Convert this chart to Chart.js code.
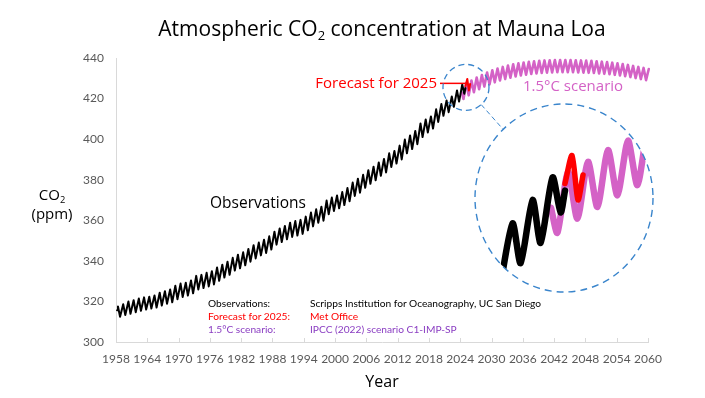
<!DOCTYPE html>
<html><head><meta charset="utf-8">
<script src="https://cdn.jsdelivr.net/npm/chart.js@4"></script>
<style>
html,body{margin:0;padding:0;background:#fff;}
#wrap{position:relative;width:705px;height:398px;overflow:hidden;font-family:'Open Sans',sans-serif;color:#000;}
#main{position:absolute;left:0;top:0;}
#inset{position:absolute;left:474px;top:103px;}
.t{position:absolute;white-space:nowrap;line-height:1.15;}
.c{transform:translate(-50%,-50%);}
.l{transform:translateY(-50%);}
.r{transform:translate(-100%,-50%);}
.s{font-size:10.2px;font-family:Lato,sans-serif;}
sub{font-size:0.62em;vertical-align:-0.3em;line-height:0;}
</style></head><body>
<div id="wrap">
<canvas id="main" width="705" height="398"></canvas>
<canvas id="inset" width="180" height="190"></canvas>
<div class="t c" style="left:382px;top:28px;font-size:21px;">Atmospheric CO<sub>2</sub> concentration at Mauna Loa</div>
<div class="t c" style="left:52px;top:195px;font-size:15px;">CO<sub>2</sub></div>
<div class="t c" style="left:52px;top:214px;font-size:15px;">(ppm)</div>
<div class="t c" style="left:382px;top:381px;font-size:16px;">Year</div>
<div class="t l" style="left:210px;top:203px;font-size:15.5px;">Observations</div>
<div class="t r" style="left:437px;top:83px;font-size:15px;color:#ff0000;">Forecast for 2025</div>
<div class="t l" style="left:523px;top:86px;font-size:15px;color:#d462c6;">1.5°C scenario</div>
<div class="t l s" style="left:208px;top:304px;">Observations:</div>
<div class="t l s" style="left:310px;top:304px;">Scripps Institution for Oceanography, UC San Diego</div>
<div class="t l s" style="left:208px;top:317px;color:#ff0000;">Forecast for 2025:</div>
<div class="t l s" style="left:310px;top:317px;color:#ff0000;">Met Office</div>
<div class="t l s" style="left:208px;top:330px;color:#8a3dc2;">1.5°C scenario:</div>
<div class="t l s" style="left:310px;top:330px;color:#8a3dc2;">IPCC (2022) scenario C1-IMP-SP</div>
</div>
<script>
// ---------- DATA ----------
const xTicks = [1958,1964,1970,1976,1982,1988,1994,2000,2006,2012,2018,2024,2030,2036,2042,2048,2054,2060];
const yTicks = [300,320,340,360,380,400,420,440];

// Observations (Mauna Loa), seasonal maximum (~May) and minimum (~Oct) per year, ppm
const obsFirstYear = 1958;
const obsPeaks = [317.5,318.6,320.0,320.6,321.4,322.0,322.3,322.9,324.3,325.0,325.9,327.7,328.8,329.2,330.3,332.6,333.1,334.1,334.9,336.7,
  338.1,339.6,341.5,343.0,344.2,345.9,347.7,349.0,350.4,352.1,354.4,356.0,357.2,358.8,359.6,360.2,361.8,363.8,365.4,366.7,
  369.7,371.2,372.2,373.9,375.9,378.6,380.5,382.4,384.7,386.4,388.5,390.2,393.0,394.2,396.8,399.8,401.8,404.0,407.7,409.7,
  411.2,414.7,417.3,419.1,421.0,424.0,426.9];
const obsTroughs = [312.4,313.3,313.9,314.7,315.4,316.0,316.5,317.0,318.0,318.9,319.6,321.1,322.2,322.9,324.0,325.9,326.6,327.4,328.4,330.2,
  331.8,333.1,335.2,336.3,337.8,339.6,341.2,342.7,343.9,345.6,348.0,349.3,350.6,351.8,352.5,353.3,355.1,357.0,358.8,359.8,
  363.0,364.6,365.9,367.5,369.4,372.0,373.6,376.0,378.0,379.7,381.9,383.6,386.3,388.0,390.0,393.0,395.1,397.5,401.0,403.3,
  405.2,408.5,411.5,413.3,415.9,418.5,422.4];
const obsFirstPoint = [1958.2, 315.7];
const obsLastPoint = [2025.0, 425.2];
const insetObsFrom = 2021.7;   // the magnified view shows observations from late 2021

// Met Office forecast for 2025
const forecastTimes = [2025.0, 2025.35, 2025.65, 2025.9];
const forecastValues = [426.1, 429.7, 424.0, 427.2];

// IPCC 1.5°C scenario (C1-IMP-SP)
const scenFirstPoint = [2024.3, 423.0];
const scenTroughFirstYear = 2024;
const scenTroughs = [419.8,421.6,423.1,424.6,425.9,427.0,428.0,428.9,429.6,430.3,430.9,431.4,431.8,432.1,432.4,432.6,432.8,432.9,433.0,433.0,
  433.0,433.0,432.9,432.8,432.7,432.6,432.4,432.2,432.0,431.7,431.4,431.0,430.6,430.1,429.6,429.1];
const scenPeakFirstYear = 2025;
const scenPeaks = [427.6,428.9,430.4,431.6,432.8,433.9,434.8,435.6,436.3,436.9,437.4,437.8,438.1,438.4,438.6,438.8,438.9,439.0,439.0,439.0,
  439.0,438.9,438.8,438.7,438.6,438.4,438.2,438.0,437.7,437.4,437.0,436.6,436.1,435.6,435.1,434.6];
const scenLastPoint = [2060.4, 430.8];

// ---------- BUILD ----------
function buildSeries(first, peaksY0, peaks, peakPhase, troughY0, troughs, troughPhase, last){
  const pts = [{x:first[0], y:first[1]}];
  peaks.forEach((v,i)=>pts.push({x:peaksY0+i+peakPhase, y:v}));
  troughs.forEach((v,i)=>pts.push({x:troughY0+i+troughPhase, y:v}));
  pts.push({x:last[0], y:last[1]});
  return pts.sort((a,b)=>a.x-b.x);
}
const obsData = buildSeries(obsFirstPoint, obsFirstYear, obsPeaks, 0.38, obsFirstYear, obsTroughs, 0.78, obsLastPoint);
const scenData = buildSeries(scenFirstPoint, scenPeakFirstYear, scenPeaks, 0.15, scenTroughFirstYear, scenTroughs, 0.62, scenLastPoint);
const fcData = forecastTimes.map((t,i)=>({x:t, y:forecastValues[i]}));

const BLACK='#000000', RED='#ff0000', PINK='#d462c6', BLUE='#3a85cc', AXIS='#d9d9d9', TICKC='#595959';

function datasets(obs, wBlack, wRed, wPink, tension){
  return [
    {label:'Forecast for 2025', data:fcData, borderColor:RED, borderWidth:wRed},
    {label:'Observations', data:obs, borderColor:BLACK, borderWidth:wBlack},
    {label:'1.5°C scenario', data:scenData, borderColor:PINK, borderWidth:wPink, clip:false}
  ].map(d=>Object.assign(d,{pointRadius:0, tension:tension, fill:false, borderJoinStyle:'round', borderCapStyle:'round'}));
}

const decor = {
  id:'decor',
  afterDraw(chart){
    const c = chart.ctx, xs = chart.scales.x, ys = chart.scales.y, ca = chart.chartArea;
    c.save();
    c.strokeStyle = AXIS; c.lineWidth = 1;
    xTicks.forEach(v=>{ const px = Math.round(xs.getPixelForValue(v))+0.5; c.beginPath(); c.moveTo(px, ca.bottom); c.lineTo(px, ca.bottom-4); c.stroke(); });
    const ry = ys.getPixelForValue(427.5);
    c.strokeStyle = RED; c.lineWidth = 1.5;
    c.beginPath(); c.moveTo(440, ry); c.lineTo(xs.getPixelForValue(forecastTimes[0]), ry); c.stroke();
    const cx = xs.getPixelForValue(2025.1), cy = ys.getPixelForValue(425.5), r = 23;
    c.strokeStyle = BLUE; c.lineWidth = 1.3; c.setLineDash([6,4]);
    c.beginPath(); c.arc(cx, cy, r, 0, Math.PI*2); c.stroke();
    const bx = 474+90, by = 103+95, rx = 89, rY = 94;
    const dx = bx-cx, dy = by-cy, L = Math.hypot(dx,dy), ux = dx/L, uy = dy/L;
    const t = 1/Math.sqrt((ux/rx)**2 + (uy/rY)**2);
    c.lineWidth = 1; c.setLineDash([5,3]);
    c.beginPath(); c.moveTo(cx+ux*r, cy+uy*r); c.lineTo(bx-ux*t, by-uy*t); c.stroke();
    c.restore();
  }
};

new Chart(document.getElementById('main'), {
  type:'line',
  data:{datasets:datasets(obsData, 2, 2, 2.6, 0)},
  options:{
    responsive:false, animation:false, devicePixelRatio:1,
    layout:{padding:{left:0, right:57, top:58, bottom:0}},
    plugins:{legend:{display:false}, tooltip:{enabled:false}, title:{display:false}},
    scales:{
      x:{type:'linear', min:1958, max:2060,
        afterBuildTicks:s=>{ s.ticks = xTicks.map(v=>({value:v})); },
        afterFit:s=>{ s.height = 56; },
        grid:{display:false, drawTicks:false},
        border:{display:true, color:AXIS, width:1},
        ticks:{padding:10, color:TICKC, font:{family:'Lato', size:12}, maxRotation:0, autoSkip:false, callback:v=>String(v)}},
      y:{type:'linear', min:300, max:440,
        afterBuildTicks:s=>{ s.ticks = yTicks.map(v=>({value:v})); },
        afterFit:s=>{ s.width = 116; },
        grid:{display:false, drawTicks:false},
        border:{display:true, color:AXIS, width:1},
        ticks:{padding:12, color:TICKC, font:{family:'Lato', size:12}, callback:v=>String(v)}}
    }
  },
  plugins:[decor]
});

const ellipse = {
  id:'ellipse',
  beforeDatasetsDraw(chart){ const c = chart.ctx; c.save(); c.beginPath(); c.ellipse(90,95,89,94,0,0,Math.PI*2); c.clip(); },
  afterDatasetsDraw(chart){ chart.ctx.restore(); },
  afterDraw(chart){ const c = chart.ctx; c.save(); c.strokeStyle = BLUE; c.lineWidth = 1.4; c.setLineDash([7,5]);
    c.beginPath(); c.ellipse(90,95,89,94,0,0,Math.PI*2); c.stroke(); c.restore(); }
};

new Chart(document.getElementById('inset'), {
  type:'line',
  data:{datasets:datasets(obsData.filter(p=>p.x>=insetObsFrom), 6.5, 5.5, 6.5, 0.25)},
  options:{
    responsive:false, animation:false, devicePixelRatio:1,
    layout:{padding:1},
    plugins:{legend:{display:false}, tooltip:{enabled:false}},
    scales:{
      x:{type:'linear', min:2020.5, max:2029.4, display:false},
      y:{type:'linear', min:412.2, max:436.3, display:false}
    }
  },
  plugins:[ellipse]
});
</script>
</body></html>
